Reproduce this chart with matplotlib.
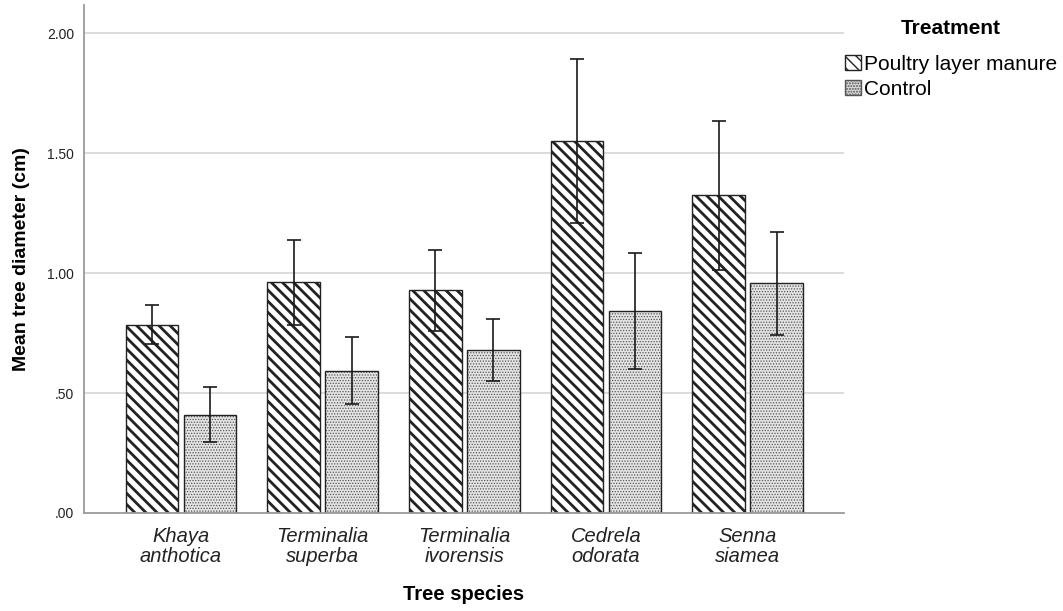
import matplotlib
matplotlib.use("Agg")
import matplotlib.pyplot as plt
from matplotlib.patches import Patch
import numpy as np

plt.rcParams.update({
    'font.family': ['Liberation Sans', 'DejaVu Sans'],
    'font.size': 10,
    'axes.spines.top': False,
    'axes.spines.right': False,
})

# ── Data ──────────────────────────────────────────────────────────
SPECIES = ["Khaya\nanthotica", "Terminalia\nsuperba", "Terminalia\nivorensis",
           "Cedrela\nodorata", "Senna\nsiamea"]

PLM_MEAN = [0.783, 0.962, 0.930, 1.551, 1.324]
PLM_LOW  = [0.704, 0.783, 0.760, 1.208, 1.012]
PLM_HIGH = [0.867, 1.136, 1.096, 1.893, 1.632]

CTL_MEAN = [0.410, 0.593, 0.680, 0.842, 0.957]
CTL_LOW  = [0.296, 0.454, 0.550, 0.600, 0.742]
CTL_HIGH = [0.525, 0.732, 0.810, 1.085, 1.170]

YTICKS = [0.0, 0.5, 1.0, 1.5, 2.0]
YTICK_LABELS = [".00", ".50", "1.00", "1.50", "2.00"]

# ── Figure ────────────────────────────────────────────────────────
fig = plt.figure(figsize=(10.63, 6.11), dpi=100)
ax = fig.add_axes([84 / 1063, 1 - 513 / 611, (844 - 84) / 1063, (513 - 5) / 611])

x = np.arange(len(SPECIES))
w = 0.372
off = 0.204
TXT = "#222222"

plm_err = [np.array(PLM_MEAN) - np.array(PLM_LOW), np.array(PLM_HIGH) - np.array(PLM_MEAN)]
ctl_err = [np.array(CTL_MEAN) - np.array(CTL_LOW), np.array(CTL_HIGH) - np.array(CTL_MEAN)]

# poultry layer manure: diagonal stripes
plm = ax.bar(x - off, PLM_MEAN, w, facecolor="white", edgecolor="#222222",
             linewidth=1.0, hatch="\\\\\\", zorder=2)
for p in plm:
    if hasattr(p, "set_hatch_linewidth"):
        p.set_hatch_linewidth(2.0)

# control: fine stipple (hatch in grey, then black outline on top)
ctl = ax.bar(x + off, CTL_MEAN, w, facecolor="#e4e4e4", edgecolor="#555555",
             linewidth=0, hatch="......", zorder=2)
for p in ctl:
    if hasattr(p, "set_hatch_linewidth"):
        p.set_hatch_linewidth(0.6)
ax.bar(x + off, CTL_MEAN, w, fill=False, edgecolor="#222222", linewidth=1.0, zorder=2.5)

ax.errorbar(x - off, PLM_MEAN, yerr=plm_err, fmt="none", ecolor="#1a1a1a",
            elinewidth=1.2, capsize=5.3, capthick=1.2, zorder=3)
ax.errorbar(x + off, CTL_MEAN, yerr=ctl_err, fmt="none", ecolor="#1a1a1a",
            elinewidth=1.2, capsize=5.3, capthick=1.2, zorder=3)

ax.set_xlim(-0.685, 4.68)
ax.set_ylim(0, 2.117)

ax.set_yticks(YTICKS)
ax.set_yticklabels(YTICK_LABELS, color=TXT, fontsize=10)
ax.set_xticks(x)
ax.set_xticklabels(SPECIES, fontsize=14.5, style="italic", color=TXT, linespacing=1.05)
ax.tick_params(axis="both", length=0)
ax.tick_params(axis="y", pad=7)
ax.tick_params(axis="x", pad=10)

for y in YTICKS[1:]:
    ax.axhline(y, color="#d6d6d6", linewidth=1.2, zorder=0)

for s in ("left", "bottom"):
    ax.spines[s].set_color("#9a9a9a")
    ax.spines[s].set_linewidth(1.3)

ax.set_ylabel("Mean tree diameter (cm)", fontsize=14, fontweight="bold", color="black", labelpad=12)
ax.set_xlabel("Tree species", fontsize=14.5, fontweight="bold", color="black", labelpad=14)

handles = [
    Patch(facecolor="white", edgecolor="#222222", hatch="\\\\\\", linewidth=1.0),
    Patch(facecolor="#dcdcdc", edgecolor="#555555", hatch="......", linewidth=1.0),
]
leg = fig.legend(handles, ["Poultry layer manure", "Control"], title="Treatment",
                 loc="upper left", bbox_to_anchor=(845 / 1063, 1 - 19 / 611),
                 frameon=False, fontsize=15, title_fontproperties={"weight": "bold", "size": 15},
                 handlelength=0.75, handleheight=0.75, handletextpad=0.15,
                 labelspacing=0.3, borderpad=0, borderaxespad=0)
leg._legend_box.sep = 12

fig.savefig("out.png", dpi=100)
